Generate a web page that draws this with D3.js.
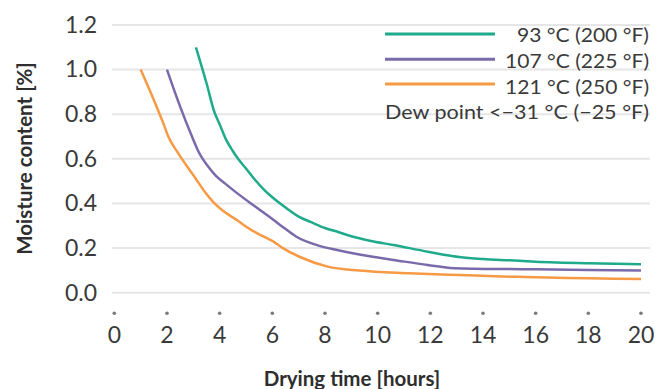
<!DOCTYPE html>
<html><head><meta charset="utf-8">
<script src="https://cdn.jsdelivr.net/npm/d3@7"></script>
<style>
body{margin:0;background:#fff;}
text{font-family:Lato,"Noto Sans",sans-serif;}
</style></head>
<body><svg id="c" width="669" height="389"></svg>
<script>
const seriesNames = ["93 °C (200 °F)", "107 °C (225 °F)", "121 °C (250 °F)"];
const seriesColors = ["#1faa8b", "#7a6aab", "#f79a45"];
const green = [[3.1,1.10],[3.5,0.94],[3.8,0.81],[4.0,0.755],[4.25,0.685],[4.5,0.635],[4.7,0.6],[5.0,0.557],[5.35,0.505],[5.7,0.46],[6.0,0.428],[6.35,0.395],[7.0,0.341],[7.5,0.315],[8,0.29],[8.5,0.272],[9,0.253],[9.7,0.233],[10.6,0.214],[11.9,0.184],[13.1,0.16],[14,0.151],[15,0.145],[16,0.139],[18,0.132],[20,0.128]];
const purple = [[2,1.0],[2.5,0.834],[2.95,0.70],[3.2,0.632],[3.6,0.56],[3.85,0.525],[4.2,0.49],[4.6,0.452],[5.35,0.386],[6.05,0.326],[6.45,0.29],[6.9,0.252],[7.7,0.213],[8.5,0.19],[9.7,0.163],[10.6,0.147],[11.9,0.124],[12.9,0.11],[15,0.106],[16,0.105],[18,0.102],[20,0.099]];
const orange = [[1,1.0],[1.55,0.85],[1.86,0.76],[2.05,0.70],[2.4,0.63],[2.8,0.56],[3.1,0.51],[3.45,0.45],[3.75,0.407],[4.15,0.365],[4.65,0.326],[5.15,0.285],[5.7,0.25],[6.0,0.232],[6.4,0.20],[7.05,0.16],[8.1,0.117],[9.3,0.099],[11.2,0.087],[13.1,0.079],[15,0.072],[16,0.069],[18,0.065],[20,0.061]];
const seriesData = [green, purple, orange];
const xTicks = [0,2,4,6,8,10,12,14,16,18,20];
const yTicks = [0,0.2,0.4,0.6,0.8,1.0,1.2];
const legendExtra = "Dew point <\u221231 °C (\u221225 °F)";
const xTitle = "Drying time [hours]";
const yTitle = "Moisture content [%]";

const svg = d3.select("#c");
const x = d3.scaleLinear().domain([0,20]).range([114.3,641]);
const y = d3.scaleLinear().domain([0,1.2]).range([292.7,25]);
const txt = "#3a3a3a";

// gridlines
svg.append("g").selectAll("line").data(yTicks).join("line")
  .attr("x1",112).attr("x2",650)
  .attr("y1",d=>y(d)).attr("y2",d=>y(d))
  .attr("stroke","#e6e6e6").attr("stroke-width",2);

// y labels
svg.append("g").selectAll("text").data(yTicks).join("text")
  .attr("x",97).attr("y",d=>y(d)+7.8)
  .attr("text-anchor","end").attr("font-size",23).attr("fill",txt)
  .text(d=>d.toFixed(1));

// x tick dots and labels
svg.append("g").selectAll("circle").data(xTicks).join("circle")
  .attr("cx",d=>x(d)).attr("cy",313.3).attr("r",1.8).attr("fill","#7a7a7a");
svg.append("g").selectAll("text").data(xTicks).join("text")
  .attr("x",d=>x(d)).attr("y",343.3)
  .attr("text-anchor","middle").attr("font-size",23).attr("fill",txt)
  .text(d=>d);

// lines
const line = d3.line().x(d=>x(d[0])).y(d=>y(d[1])).curve(d3.curveMonotoneX);
svg.append("g").selectAll("path").data(seriesData).join("path")
  .attr("d",line).attr("fill","none")
  .attr("stroke",(d,i)=>seriesColors[i]).attr("stroke-width",2.5)
  .attr("stroke-linejoin","round");

// legend
const lg = svg.append("g");
const rowsY = [34,59.3,84];
const textW = [132,144,144];
seriesNames.forEach((n,i)=>{
  lg.append("line").attr("x1",385).attr("x2",495).attr("y1",rowsY[i]).attr("y2",rowsY[i])
    .attr("stroke",seriesColors[i]).attr("stroke-width",3);
  lg.append("text").attr("x",649).attr("y",41.8+26*i).attr("text-anchor","end")
    .attr("font-size",18.5).attr("fill",txt)
    .attr("textLength",textW[i]).attr("lengthAdjust","spacingAndGlyphs").text(n);
});
lg.append("text").attr("x",649).attr("y",119.3).attr("text-anchor","end")
  .attr("font-size",18.5).attr("fill",txt)
  .attr("textLength",264).attr("lengthAdjust","spacingAndGlyphs").text(legendExtra);

// axis titles
svg.append("text").attr("x",352).attr("y",386).attr("text-anchor","middle")
  .attr("font-size",20.5).attr("font-weight","bold").attr("fill","#2e2e2e").text(xTitle);
svg.append("text").attr("transform","translate(31.5,158.5) rotate(-90)").attr("text-anchor","middle")
  .attr("font-size",20.5).attr("font-weight","bold").attr("fill","#2e2e2e").text(yTitle);
</script></body></html>
